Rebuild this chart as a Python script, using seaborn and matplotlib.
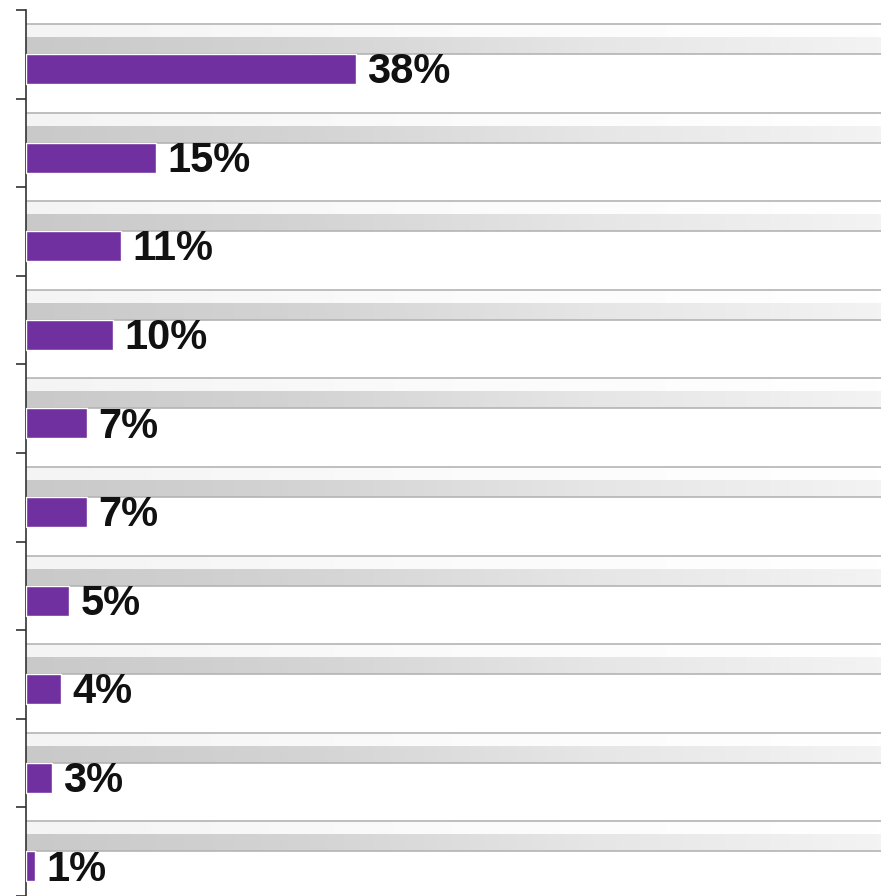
import numpy as np
import pandas as pd
import matplotlib
matplotlib.use("Agg")
import matplotlib.pyplot as plt
import seaborn as sns
from matplotlib.colors import LinearSegmentedColormap

# Values (top to bottom)
categories = ["Cat 1", "Cat 2", "Cat 3", "Cat 4", "Cat 5",
              "Cat 6", "Cat 7", "Cat 8", "Cat 9", "Cat 10"]
shares = [38, 15, 11, 10, 7, 7, 5, 4, 3, 1]
labels = ["38%", "15%", "11%", "10%", "7%", "7%", "5%", "4%", "3%", "1%"]

df = pd.DataFrame({"Category": categories, "Share": shares})

sns.set_style("white")
plt.rcParams["font.family"] = ["Liberation Sans", "DejaVu Sans"]

fig = plt.figure(figsize=(8.81, 8.96), dpi=100)
ax = fig.add_axes([26 / 881, 0, 855 / 881, 886 / 896])

xmax = 98.5
n = len(categories)

# gray gradient bands behind each bar (darker left, fading right)
cmap = LinearSegmentedColormap.from_list("band", ["#c9c9c9", "#d4d4d4", "#e6e6e6", "#f3f3f3"])
grad = np.linspace(0, 1, 256).reshape(1, -1)
upper = LinearSegmentedColormap.from_list("up", ["#f4f4f4", "#fbfbfb", "#ffffff"])
for i in range(n):
    ax.imshow(grad, cmap=upper, aspect="auto", extent=[0, xmax, i - 0.351, i - 0.508],
              zorder=0, interpolation="bicubic")
    ax.imshow(grad, cmap=cmap, aspect="auto", extent=[0, xmax, i - 0.17, i - 0.351],
              zorder=0, interpolation="bicubic")
    ax.hlines([i - 0.508, i - 0.17], 0, xmax, color="#b4b4b4", lw=1.2, zorder=1)

sns.barplot(data=df, x="Share", y="Category", orient="h", color="#7030A0",
            saturation=1, width=0.34, ax=ax, zorder=3)

for i, (v, lab) in enumerate(zip(shares, labels)):
    ax.text(v + 1.3, i + 0.035, lab, va="center", ha="left", fontsize=30,
            fontweight="bold", color="#111111", zorder=4)

ax.set_xlim(0, xmax)
ax.set_ylim(n - 0.666, -0.666)
ax.set_yticks([i - 0.666 for i in range(n + 1)])
ax.set_yticklabels([])
ax.set_xticks([])
ax.set_xlabel("")
ax.set_ylabel("")
ax.tick_params(axis="y", direction="out", length=7, width=1.2, color="#333333", left=True)
for s in ["top", "right", "bottom"]:
    ax.spines[s].set_visible(False)
ax.spines["left"].set_color("#333333")
ax.spines["left"].set_linewidth(1.2)

fig.savefig("out.png", dpi=100)
